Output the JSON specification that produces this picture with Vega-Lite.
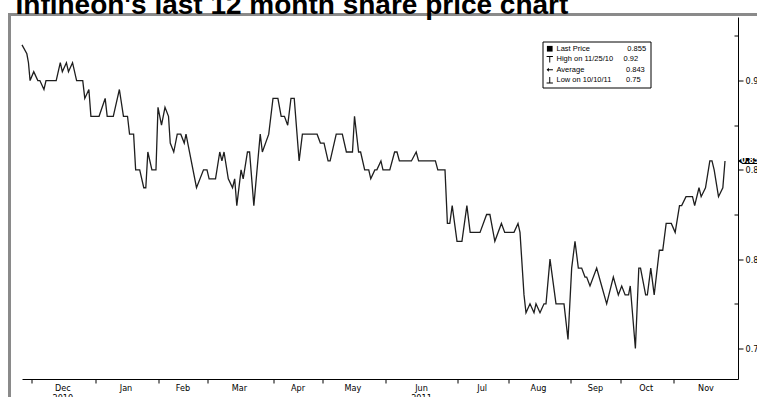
{
  "$schema": "https://vega.github.io/schema/vega-lite/v6.json",
  "autosize": {"type": "none"},
  "padding": {"left": 9.5, "top": 14.5, "right": 0, "bottom": 0},
  "width": 755,
  "height": 390,
  "background": "white",
  "title": {
    "text": "Infineon's last 12 month share price chart",
    "anchor": "start",
    "frame": "group",
    "font": "Liberation Sans",
    "fontSize": 28,
    "fontWeight": "bold",
    "color": "black",
    "offset": -5,
    "dx": 6
  },
  "config": {
    "view": {"stroke": "#8a8a8a", "strokeWidth": 3},
    "axis": {"grid": false, "domainColor": "black", "tickColor": "black", "labelColor": "black", "domainWidth": 1, "tickWidth": 1}
  },
  "data": {"values": [
    {"date": "2010-11-25", "price": 0.92},
    {"date": "2010-11-28", "price": 0.915},
    {"date": "2010-11-29", "price": 0.91},
    {"date": "2010-11-30", "price": 0.90},
    {"date": "2010-12-02", "price": 0.905},
    {"date": "2010-12-04", "price": 0.90},
    {"date": "2010-12-05", "price": 0.90},
    {"date": "2010-12-07", "price": 0.895},
    {"date": "2010-12-08", "price": 0.90},
    {"date": "2010-12-13", "price": 0.90},
    {"date": "2010-12-15", "price": 0.91},
    {"date": "2010-12-16", "price": 0.905},
    {"date": "2010-12-18", "price": 0.91},
    {"date": "2010-12-19", "price": 0.905},
    {"date": "2010-12-21", "price": 0.91},
    {"date": "2010-12-23", "price": 0.90},
    {"date": "2010-12-26", "price": 0.90},
    {"date": "2010-12-27", "price": 0.89},
    {"date": "2010-12-29", "price": 0.895},
    {"date": "2010-12-30", "price": 0.88},
    {"date": "2011-01-03", "price": 0.88},
    {"date": "2011-01-06", "price": 0.89},
    {"date": "2011-01-07", "price": 0.88},
    {"date": "2011-01-10", "price": 0.88},
    {"date": "2011-01-12", "price": 0.89},
    {"date": "2011-01-13", "price": 0.895},
    {"date": "2011-01-15", "price": 0.88},
    {"date": "2011-01-17", "price": 0.88},
    {"date": "2011-01-18", "price": 0.87},
    {"date": "2011-01-20", "price": 0.87},
    {"date": "2011-01-21", "price": 0.85},
    {"date": "2011-01-23", "price": 0.85},
    {"date": "2011-01-25", "price": 0.84},
    {"date": "2011-01-26", "price": 0.84},
    {"date": "2011-01-27", "price": 0.86},
    {"date": "2011-01-29", "price": 0.85},
    {"date": "2011-01-31", "price": 0.85},
    {"date": "2011-02-01", "price": 0.885},
    {"date": "2011-02-03", "price": 0.875},
    {"date": "2011-02-05", "price": 0.885},
    {"date": "2011-02-07", "price": 0.88},
    {"date": "2011-02-08", "price": 0.865},
    {"date": "2011-02-10", "price": 0.86},
    {"date": "2011-02-12", "price": 0.87},
    {"date": "2011-02-14", "price": 0.87},
    {"date": "2011-02-16", "price": 0.865},
    {"date": "2011-02-17", "price": 0.87},
    {"date": "2011-02-23", "price": 0.84},
    {"date": "2011-02-27", "price": 0.85},
    {"date": "2011-03-01", "price": 0.85},
    {"date": "2011-03-02", "price": 0.845},
    {"date": "2011-03-05", "price": 0.845},
    {"date": "2011-03-07", "price": 0.86},
    {"date": "2011-03-08", "price": 0.855},
    {"date": "2011-03-09", "price": 0.86},
    {"date": "2011-03-11", "price": 0.845},
    {"date": "2011-03-13", "price": 0.84},
    {"date": "2011-03-14", "price": 0.845},
    {"date": "2011-03-15", "price": 0.83},
    {"date": "2011-03-17", "price": 0.85},
    {"date": "2011-03-18", "price": 0.845},
    {"date": "2011-03-20", "price": 0.86},
    {"date": "2011-03-21", "price": 0.86},
    {"date": "2011-03-23", "price": 0.83},
    {"date": "2011-03-26", "price": 0.87},
    {"date": "2011-03-27", "price": 0.86},
    {"date": "2011-03-30", "price": 0.87},
    {"date": "2011-04-01", "price": 0.89},
    {"date": "2011-04-04", "price": 0.89},
    {"date": "2011-04-06", "price": 0.88},
    {"date": "2011-04-08", "price": 0.88},
    {"date": "2011-04-10", "price": 0.875},
    {"date": "2011-04-12", "price": 0.89},
    {"date": "2011-04-14", "price": 0.89},
    {"date": "2011-04-17", "price": 0.855},
    {"date": "2011-04-19", "price": 0.87},
    {"date": "2011-04-28", "price": 0.87},
    {"date": "2011-04-30", "price": 0.865},
    {"date": "2011-05-02", "price": 0.865},
    {"date": "2011-05-04", "price": 0.855},
    {"date": "2011-05-05", "price": 0.855},
    {"date": "2011-05-08", "price": 0.87},
    {"date": "2011-05-11", "price": 0.87},
    {"date": "2011-05-13", "price": 0.86},
    {"date": "2011-05-16", "price": 0.86},
    {"date": "2011-05-17", "price": 0.88},
    {"date": "2011-05-19", "price": 0.86},
    {"date": "2011-05-20", "price": 0.86},
    {"date": "2011-05-22", "price": 0.85},
    {"date": "2011-05-24", "price": 0.85},
    {"date": "2011-05-25", "price": 0.845},
    {"date": "2011-05-27", "price": 0.85},
    {"date": "2011-05-28", "price": 0.85},
    {"date": "2011-05-30", "price": 0.855},
    {"date": "2011-05-31", "price": 0.85},
    {"date": "2011-06-03", "price": 0.85},
    {"date": "2011-06-05", "price": 0.86},
    {"date": "2011-06-06", "price": 0.86},
    {"date": "2011-06-07", "price": 0.855},
    {"date": "2011-06-12", "price": 0.855},
    {"date": "2011-06-14", "price": 0.86},
    {"date": "2011-06-15", "price": 0.855},
    {"date": "2011-06-22", "price": 0.855},
    {"date": "2011-06-23", "price": 0.85},
    {"date": "2011-06-26", "price": 0.85},
    {"date": "2011-06-27", "price": 0.82},
    {"date": "2011-06-28", "price": 0.82},
    {"date": "2011-06-29", "price": 0.83},
    {"date": "2011-07-01", "price": 0.81},
    {"date": "2011-07-04", "price": 0.81},
    {"date": "2011-07-07", "price": 0.83},
    {"date": "2011-07-09", "price": 0.815},
    {"date": "2011-07-15", "price": 0.815},
    {"date": "2011-07-19", "price": 0.825},
    {"date": "2011-07-21", "price": 0.825},
    {"date": "2011-07-22", "price": 0.82},
    {"date": "2011-07-24", "price": 0.81},
    {"date": "2011-07-28", "price": 0.82},
    {"date": "2011-07-30", "price": 0.815},
    {"date": "2011-08-04", "price": 0.815},
    {"date": "2011-08-06", "price": 0.82},
    {"date": "2011-08-07", "price": 0.815},
    {"date": "2011-08-09", "price": 0.78},
    {"date": "2011-08-10", "price": 0.77},
    {"date": "2011-08-12", "price": 0.775},
    {"date": "2011-08-14", "price": 0.77},
    {"date": "2011-08-15", "price": 0.775},
    {"date": "2011-08-17", "price": 0.77},
    {"date": "2011-08-19", "price": 0.775},
    {"date": "2011-08-20", "price": 0.775},
    {"date": "2011-08-22", "price": 0.80},
    {"date": "2011-08-25", "price": 0.775},
    {"date": "2011-08-29", "price": 0.775},
    {"date": "2011-08-31", "price": 0.755},
    {"date": "2011-09-02", "price": 0.795},
    {"date": "2011-09-04", "price": 0.81},
    {"date": "2011-09-06", "price": 0.795},
    {"date": "2011-09-08", "price": 0.795},
    {"date": "2011-09-10", "price": 0.79},
    {"date": "2011-09-11", "price": 0.79},
    {"date": "2011-09-13", "price": 0.785},
    {"date": "2011-09-17", "price": 0.795},
    {"date": "2011-09-20", "price": 0.785},
    {"date": "2011-09-23", "price": 0.775},
    {"date": "2011-09-27", "price": 0.79},
    {"date": "2011-09-30", "price": 0.78},
    {"date": "2011-10-02", "price": 0.785},
    {"date": "2011-10-04", "price": 0.78},
    {"date": "2011-10-06", "price": 0.78},
    {"date": "2011-10-07", "price": 0.785},
    {"date": "2011-10-10", "price": 0.75},
    {"date": "2011-10-12", "price": 0.795},
    {"date": "2011-10-13", "price": 0.795},
    {"date": "2011-10-16", "price": 0.78},
    {"date": "2011-10-17", "price": 0.78},
    {"date": "2011-10-19", "price": 0.795},
    {"date": "2011-10-21", "price": 0.78},
    {"date": "2011-10-24", "price": 0.805},
    {"date": "2011-10-26", "price": 0.805},
    {"date": "2011-10-28", "price": 0.82},
    {"date": "2011-10-31", "price": 0.82},
    {"date": "2011-11-02", "price": 0.815},
    {"date": "2011-11-04", "price": 0.83},
    {"date": "2011-11-05", "price": 0.83},
    {"date": "2011-11-07", "price": 0.835},
    {"date": "2011-11-10", "price": 0.835},
    {"date": "2011-11-11", "price": 0.83},
    {"date": "2011-11-13", "price": 0.84},
    {"date": "2011-11-14", "price": 0.835},
    {"date": "2011-11-16", "price": 0.84},
    {"date": "2011-11-18", "price": 0.855},
    {"date": "2011-11-19", "price": 0.855},
    {"date": "2011-11-20", "price": 0.85},
    {"date": "2011-11-22", "price": 0.835},
    {"date": "2011-11-24", "price": 0.84},
    {"date": "2011-11-25", "price": 0.855}
  ]},
  "encoding": {
    "x": {
      "field": "date", "type": "temporal",
      "scale": {
        "type": "utc",
        "domain": [
          {"year": 2010, "month": 11, "date": 25, "utc": true},
          {"year": 2011, "month": 12, "date": 1, "utc": true}
        ],
        "domainRaw": {"expr": "[utc(2010,10,25), utc(2010,11,1), utc(2011,0,1), utc(2011,1,1), utc(2011,2,1), utc(2011,3,1), utc(2011,4,1), utc(2011,5,1), utc(2011,6,1), utc(2011,7,1), utc(2011,8,1), utc(2011,9,1), utc(2011,10,1), utc(2011,11,1)]"},
        "range": [12.5, 22.2, 85.5, 148.5, 197.5, 263.5, 312.5, 375.5, 447.5, 498.5, 560.5, 610.5, 663.5, 728.5]
      },
      "axis": {
        "title": null,
        "orient": "bottom",
        "offset": -25.5,
        "values": [
          {"year": 2010, "month": 12, "date": 1, "utc": true},
          {"year": 2010, "month": 12, "date": 16, "utc": true},
          {"year": 2011, "month": 1, "date": 1, "utc": true},
          {"year": 2011, "month": 1, "date": 16, "utc": true},
          {"year": 2011, "month": 2, "date": 1, "utc": true},
          {"year": 2011, "month": 2, "date": 15, "utc": true},
          {"year": 2011, "month": 3, "date": 1, "utc": true},
          {"year": 2011, "month": 3, "date": 16, "utc": true},
          {"year": 2011, "month": 4, "date": 1, "utc": true},
          {"year": 2011, "month": 4, "date": 16, "utc": true},
          {"year": 2011, "month": 5, "date": 1, "utc": true},
          {"year": 2011, "month": 5, "date": 16, "utc": true},
          {"year": 2011, "month": 6, "date": 1, "utc": true},
          {"year": 2011, "month": 6, "date": 16, "utc": true},
          {"year": 2011, "month": 7, "date": 1, "utc": true},
          {"year": 2011, "month": 7, "date": 16, "utc": true},
          {"year": 2011, "month": 8, "date": 1, "utc": true},
          {"year": 2011, "month": 8, "date": 16, "utc": true},
          {"year": 2011, "month": 9, "date": 1, "utc": true},
          {"year": 2011, "month": 9, "date": 16, "utc": true},
          {"year": 2011, "month": 10, "date": 1, "utc": true},
          {"year": 2011, "month": 10, "date": 16, "utc": true},
          {"year": 2011, "month": 11, "date": 1, "utc": true},
          {"year": 2011, "month": 11, "date": 16, "utc": true}
        ],
        "labelExpr": "utcdate(datum.value) == 1 ? '' : (utcmonth(datum.value) == 11 ? ['Dec', '2010'] : (utcmonth(datum.value) == 5 ? ['Jun', '2011'] : utcFormat(datum.value, '%b')))",
        "tickSize": 4,
        "tickOpacity": {"condition": {"test": "utcdate(datum.value) == 1", "value": 1}, "value": 0},
        "labelFont": "DejaVu Sans Condensed",
        "labelFontSize": 9,
        "labelPadding": 0,
        "labelLineHeight": 10.5,
        "labelOverlap": false,
        "labelFlush": false
      }
    },
    "y": {
      "field": "price", "type": "quantitative",
      "scale": {"domain": [0.7329, 0.9356], "range": [364.5, 2.5], "nice": false, "zero": false},
      "axis": {
        "title": null,
        "orient": "right",
        "offset": -26.5,
        "values": [0.75, 0.775, 0.8, 0.825, 0.85, 0.875, 0.9, 0.925],
        "labelExpr": "round(datum.value * 1000) % 50 == 0 ? format(datum.value, '.2~f') : ''",
        "tickSize": {"condition": {"test": "round(datum.value * 1000) % 50 == 0", "value": 5}, "value": -4},
        "labelFont": "DejaVu Sans Condensed",
        "labelFontSize": 9,
        "labelPadding": 2,
        "labelOverlap": false
      }
    }
  },
  "layer": [
    {
      "mark": {"type": "line", "color": "#1e1e1e", "strokeWidth": 1.3}
    },
    {
      "data": {"values": [
        {"stat": "Last Price", "price": 0.855},
        {"stat": "High on 11/25/10", "price": 0.92},
        {"stat": "Average", "price": 0.843},
        {"stat": "Low on 10/10/11", "price": 0.75}
      ]},
      "mark": {"type": "point", "opacity": 0, "filled": true, "color": "black"},
      "encoding": {
        "shape": {
          "field": "stat", "type": "nominal",
          "scale": {
            "domain": ["Last Price", "High on 11/25/10", "Average", "Low on 10/10/11"],
            "range": [
              "M-0.9,-0.9H0.9V0.9H-0.9Z",
              "M-1,-1H1V-0.7H0.15V1H-0.15V-0.7H-1Z",
              "M-1,0L-0.3,-0.6V-0.15H1V0.15H-0.3V0.6Z",
              "M-0.15,-1H0.15V0.7H1V1H-1V0.7H-0.15Z"
            ]
          },
          "legend": {
            "title": null,
            "orient": "none",
            "legendX": 533,
            "legendY": 27,
            "strokeColor": "black",
            "fillColor": "white",
            "padding": 3.5,
            "rowPadding": 1.5,
            "labelOffset": 3,
            "labelFont": "Liberation Sans",
            "labelFontSize": 7.5,
            "labelColor": "black",
            "labelLimit": 200,
            "symbolSize": 40,
            "symbolOpacity": 1,
            "symbolFillColor": "black",
            "symbolStrokeColor": "black",
            "symbolStrokeWidth": 0,
            "labelExpr": "datum.label == 'Last Price' ? 'Last Price\u00a0\u00a0\u00a0\u00a0\u00a0\u00a0\u00a0\u00a0\u00a0\u00a0\u00a0\u00a0\u00a0\u00a0\u00a0\u00a0\u00a0\u00a00.855' : datum.label == 'High on 11/25/10' ? 'High on 11/25/10\u00a0\u00a0\u00a0\u00a0\u00a00.92' : datum.label == 'Average' ? 'Average\u00a0\u00a0\u00a0\u00a0\u00a0\u00a0\u00a0\u00a0\u00a0\u00a0\u00a0\u00a0\u00a0\u00a0\u00a0\u00a0\u00a0\u00a0\u00a0\u00a00.843' : 'Low on 10/10/11\u00a0\u00a0\u00a0\u00a0\u00a0\u00a0\u00a00.75'"
          }
        }
      }
    },
    {
      "transform": [
        {"window": [{"op": "row_number", "as": "rn"}], "sort": [{"field": "date", "order": "descending"}]},
        {"filter": "datum.rn == 1"}
      ],
      "mark": {"type": "point", "shape": "M-1,0L-0.55,-0.3L1,-0.3L1,0.3L-0.55,0.3Z", "size": 400, "filled": true, "color": "black", "opacity": 1, "xOffset": 23}
    },
    {
      "transform": [
        {"window": [{"op": "row_number", "as": "rn"}], "sort": [{"field": "date", "order": "descending"}]},
        {"filter": "datum.rn == 1"}
      ],
      "mark": {"type": "text", "color": "white", "fontSize": 8, "fontWeight": "bold", "font": "DejaVu Sans Condensed", "align": "left", "baseline": "middle", "xOffset": 16},
      "encoding": {
        "text": {"field": "price", "type": "quantitative", "format": ".3f"}
      }
    }
  ]
}
